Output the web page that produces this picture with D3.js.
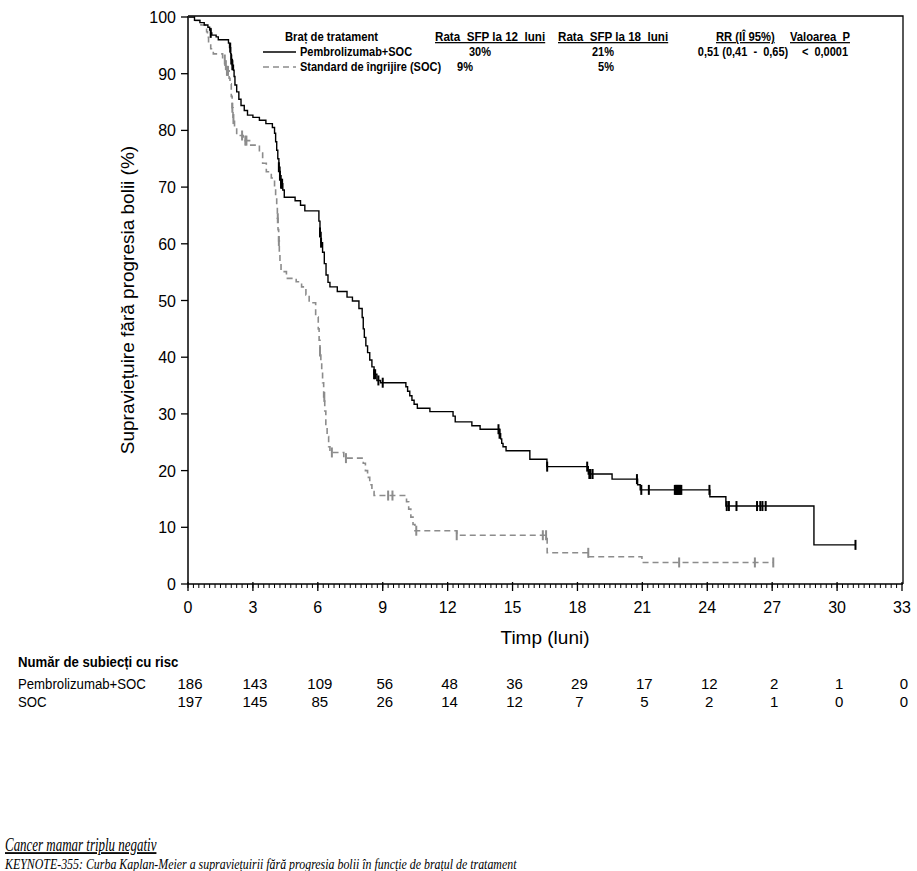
<!DOCTYPE html>
<html>
<head>
<meta charset="utf-8">
<script src="https://cdn.jsdelivr.net/npm/d3@7"></script>
<style>
    body { margin: 0; background: #fff; }
    svg { display: block; }
    .narrow { font-family: "Liberation Sans Narrow", "Arial Narrow", "Liberation Sans", sans-serif; }
    .sans { font-family: "Liberation Sans", Arial, sans-serif; }
    .serif { font-family: "Liberation Serif", "Times New Roman", serif; font-style: italic; }
</style>
</head>
<body>
<div id="chart"></div>
<script>
// Kaplan-Meier steps: [time in months, survival % after the drop]
const pembroSteps = [
    [0.3, 99.4], [0.55, 99.0], [0.75, 98.6], [0.92, 98.2], [1.0, 97.7], [1.05, 97.2], [1.1, 96.8],
    [1.3, 96.5], [1.4, 96.0], [1.87, 95.4], [1.92, 94.6], [1.97, 93.5], [2.0, 92.5], [2.05, 91.5],
    [2.1, 90.6], [2.13, 89.5], [2.17, 88.0], [2.25, 86.8], [2.35, 85.5], [2.45, 84.4], [2.6, 83.5],
    [2.75, 82.7], [3.0, 82.3], [3.3, 81.8], [3.6, 81.2], [3.9, 80.5], [4.0, 79.5], [4.05, 78.0],
    [4.1, 76.5], [4.15, 75.0], [4.2, 73.5], [4.25, 72.0], [4.3, 70.6], [4.38, 69.5], [4.45, 68.2],
    [4.95, 67.6], [5.2, 66.8], [5.4, 65.8], [6.05, 64.0], [6.1, 62.0], [6.15, 60.2], [6.22, 58.5],
    [6.3, 56.5], [6.38, 54.5], [6.47, 53.2], [6.56, 52.4], [6.9, 51.6], [7.35, 50.6], [7.6, 49.9],
    [7.9, 48.6], [8.05, 47.0], [8.1, 45.0], [8.15, 43.5], [8.22, 42.0], [8.3, 40.8], [8.4, 39.5],
    [8.5, 38.3], [8.6, 37.0], [8.73, 35.9], [8.9, 35.5], [10.07, 34.8], [10.15, 34.0], [10.25, 33.2],
    [10.35, 32.4], [10.45, 31.7], [10.6, 31.0], [11.18, 30.4], [12.25, 29.6], [12.35, 28.6],
    [13.12, 27.9], [13.5, 27.3], [14.4, 26.5], [14.45, 25.6], [14.5, 24.8], [14.56, 24.2],
    [14.7, 23.5], [15.8, 22.0], [16.59, 20.7], [18.5, 19.4], [19.6, 18.5], [20.78, 17.5],
    [20.9, 16.6], [24.12, 15.4], [24.86, 13.75], [28.93, 6.9]
];
const pembroEnd = 30.85;
const pembroCensored = [1.05, 1.95, 2.0, 2.05, 4.2, 4.25, 4.3, 4.35, 6.1, 6.15, 8.6, 8.65, 8.8, 9.0,
    14.35, 14.4, 16.6, 18.45, 18.55, 18.6, 18.7, 20.75, 20.95, 21.3, 22.5, 22.55, 22.6, 22.65, 22.7,
    22.75, 22.8, 24.1, 24.9, 25.0, 25.35, 26.3, 26.45, 26.55, 26.7, 30.85];

const socSteps = [
    [0.3, 99.4], [0.6, 98.6], [0.86, 97.4], [0.9, 96.4], [0.95, 95.3], [1.05, 94.4], [1.17, 93.5],
    [1.6, 92.5], [1.71, 91.5], [1.8, 90.5], [1.9, 89.2], [1.94, 88.2], [2.0, 86.0], [2.04, 84.0],
    [2.08, 82.0], [2.15, 80.5], [2.25, 79.1], [2.55, 78.2], [2.9, 77.4], [3.3, 76.0], [3.45, 74.2],
    [3.62, 72.7], [3.85, 71.6], [4.0, 70.1], [4.05, 68.5], [4.1, 66.5], [4.13, 64.5], [4.16, 62.5],
    [4.19, 60.5], [4.22, 58.5], [4.25, 56.5], [4.3, 55.1], [4.55, 53.9], [5.0, 53.3], [5.25, 52.4],
    [5.45, 51.0], [5.6, 49.6], [5.9, 47.1], [6.02, 45.0], [6.06, 43.0], [6.1, 41.0], [6.14, 39.0],
    [6.18, 37.5], [6.22, 35.5], [6.27, 33.0], [6.32, 30.5], [6.37, 28.0], [6.43, 26.0], [6.5, 24.2],
    [6.56, 23.2], [7.2, 22.2], [8.1, 21.3], [8.2, 20.0], [8.3, 18.8], [8.4, 17.5], [8.5, 16.3],
    [8.6, 15.6], [10.1, 14.5], [10.2, 13.2], [10.3, 11.8], [10.4, 10.5], [10.49, 9.4], [12.42, 8.6],
    [16.6, 5.5], [18.53, 4.8], [20.98, 3.8]
];
const socEnd = 27.05;
const socCensored = [1.7, 1.75, 1.8, 1.85, 2.05, 2.1, 2.5, 2.65, 2.7, 4.15, 4.2, 6.1, 6.3, 6.65, 7.3,
    9.25, 9.45, 10.55, 12.42, 16.4, 16.55, 18.5, 22.7, 26.2, 27.05];

const xTicks = [0, 3, 6, 9, 12, 15, 18, 21, 24, 27, 30, 33];
const yTicks = [0, 10, 20, 30, 40, 50, 60, 70, 80, 90, 100];

const legendHeader = ["Braț de tratament", "Rata  SFP la 12  luni", "Rata  SFP la 18  luni", "RR (IÎ 95%)", "Valoarea  P"];
const legendRows = [
    ["Pembrolizumab+SOC", "30%", "21%", "0,51 (0,41  -  0,65)", "<  0,0001"],
    ["Standard de îngrijire (SOC)", "9%", "5%", "", ""]
];

const riskLabels = ["Pembrolizumab+SOC", "SOC"];
const riskPembro = [186, 143, 109, 56, 48, 36, 29, 17, 12, 2, 1, 0];
const riskSoc = [197, 145, 85, 26, 14, 12, 7, 5, 2, 1, 0, 0];

const width = 917, height = 871;
const black = "#000", grey = "#8c8c8c";

const svg = d3.select("#chart").append("svg")
    .attr("width", width)
    .attr("height", height);

const x = d3.scaleLinear().domain([0, 33]).range([188, 902]);
const y = d3.scaleLinear().domain([0, 100]).range([584, 17]);

// condensed text: no narrow font installed, so squeeze horizontally
function narrowText(parent, tx, ty, str, anchor, size, bold, squeeze) {
    return parent.append("text")
        .attr("class", "narrow")
        .attr("transform", `translate(${tx},${ty}) scale(${squeeze || 0.88},1)`)
        .attr("text-anchor", anchor || "start")
        .attr("font-size", size)
        .attr("font-weight", bold ? "bold" : "normal")
        .style("white-space", "pre")
        .text(str);
}

// frame (top and right)
svg.append("path")
    .attr("d", `M${x(0)},${y(100) - 1}H${x(33) + 1}V${y(0)}`)
    .attr("fill", "none").attr("stroke", black).attr("stroke-width", 1.3);

// x axis with minor ticks every quarter month
const xAxis = svg.append("g").attr("transform", `translate(0,${y(0)})`);
xAxis.append("line").attr("x1", x(0)).attr("x2", x(33) + 1).attr("stroke", black).attr("stroke-width", 1.5);
xAxis.selectAll(".minor").data(d3.range(0, 132).map(i => i / 4))
    .enter().append("line")
    .attr("x1", d => x(d)).attr("x2", d => x(d))
    .attr("y1", 0).attr("y2", 4)
    .attr("stroke", black).attr("stroke-width", 1);
xAxis.selectAll(".major").data(xTicks)
    .enter().append("line")
    .attr("x1", d => x(d)).attr("x2", d => x(d))
    .attr("y1", -2).attr("y2", 7)
    .attr("stroke", black).attr("stroke-width", 1.3);
xAxis.selectAll(".lbl").data(xTicks)
    .enter().append("text")
    .attr("class", "sans")
    .attr("x", d => x(d)).attr("y", 29)
    .attr("text-anchor", "middle")
    .attr("font-size", 16)
    .text(d => d);

svg.append("text")
    .attr("class", "sans")
    .attr("x", 545).attr("y", 644)
    .attr("text-anchor", "middle")
    .attr("font-size", 19)
    .text("Timp (luni)");

// y axis
const yAxis = svg.append("g").attr("transform", `translate(${x(0)},0)`);
yAxis.append("line").attr("y1", y(0)).attr("y2", y(100) - 1).attr("stroke", black).attr("stroke-width", 1.5);
yAxis.selectAll(".major").data(yTicks)
    .enter().append("line")
    .attr("x1", -7).attr("x2", 0)
    .attr("y1", d => y(d)).attr("y2", d => y(d))
    .attr("stroke", black).attr("stroke-width", 1.3);
yAxis.selectAll(".lbl").data(yTicks)
    .enter().append("text")
    .attr("class", "sans")
    .attr("x", -12).attr("y", d => y(d) + 6)
    .attr("text-anchor", "end")
    .attr("font-size", 16)
    .text(d => d);

svg.append("text")
    .attr("class", "sans")
    .attr("transform", "translate(134,300) rotate(-90)")
    .attr("text-anchor", "middle")
    .attr("font-size", 19)
    .text("Supraviețuire fără progresia bolii (%)");

// step path helper
function stepPath(steps, end) {
    let d = `M${x(0)},${y(100)}`;
    steps.forEach(s => { d += `H${x(s[0])}V${y(s[1])}`; });
    return d + `H${x(end)}`;
}
function valueAt(steps, t) {
    let v = 100;
    steps.forEach(s => { if (s[0] <= t) v = s[1]; });
    return v;
}

svg.append("path")
    .attr("d", stepPath(socSteps, socEnd))
    .attr("fill", "none").attr("stroke", grey).attr("stroke-width", 1.6)
    .attr("stroke-dasharray", "6,4");

svg.selectAll(".socCens").data(socCensored)
    .enter().append("line")
    .attr("x1", d => x(d)).attr("x2", d => x(d))
    .attr("y1", d => y(valueAt(socSteps, d)) - 5)
    .attr("y2", d => y(valueAt(socSteps, d)) + 5)
    .attr("stroke", grey).attr("stroke-width", 2);

svg.append("path")
    .attr("d", stepPath(pembroSteps, pembroEnd))
    .attr("fill", "none").attr("stroke", black).attr("stroke-width", 1.4);

svg.selectAll(".pemCens").data(pembroCensored)
    .enter().append("line")
    .attr("x1", d => x(d)).attr("x2", d => x(d))
    .attr("y1", d => y(valueAt(pembroSteps, d)) - 5)
    .attr("y2", d => y(valueAt(pembroSteps, d)) + 5)
    .attr("stroke", black).attr("stroke-width", 2);

// legend table
const legend = svg.append("g");
const headX = [285, 435, 558, 716, 790];
legendHeader.forEach((h, i) => {
    narrowText(legend, headX[i], 41, h, "start", 12.5, true, i > 0 && i < 3 ? 0.93 : 0.9)
        .style("text-decoration", i > 0 ? "underline" : "none");
});

const colCenters = [null, 480, 603, 743, 825];
legendRows.forEach((row, r) => {
    const yy = 56 + r * 15;
    legend.append("line")
        .attr("x1", 263).attr("x2", 296)
        .attr("y1", yy - 4).attr("y2", yy - 4)
        .attr("stroke", r === 0 ? black : grey)
        .attr("stroke-width", 1.5)
        .attr("stroke-dasharray", r === 0 ? null : "6,4");
    narrowText(legend, 300, yy, row[0], "start", 12.5, true);
    row.slice(1).forEach((cell, i) => {
        const cx = colCenters[i + 1] + (r === 1 && i === 0 ? -15 : 0) + (r === 1 && i === 1 ? 3 : 0);
        narrowText(legend, cx, yy, cell, "middle", 12.5, true);
    });
});

// number at risk
narrowText(svg, 18, 667, "Număr de subiecți cu risc", "start", 15, true);

[riskPembro, riskSoc].forEach((vals, r) => {
    const yy = 689 + r * 18;
    narrowText(svg, 18, yy, riskLabels[r], "start", 15, false);
    svg.selectAll(".risk" + r).data(vals)
        .enter().append("text")
        .attr("class", "sans")
        .attr("x", (d, i) => x(xTicks[i]) + 2).attr("y", yy)
        .attr("text-anchor", "middle")
        .attr("font-size", 15)
        .text(d => d);
});

// caption below the figure
svg.append("text")
    .attr("class", "serif")
    .attr("transform", "translate(5,851) scale(0.72,1)")
    .attr("font-size", 18)
    .style("text-decoration", "underline")
    .text("Cancer mamar triplu negativ");

svg.append("text")
    .attr("class", "serif")
    .attr("transform", "translate(5,869) scale(0.85,1)")
    .attr("font-size", 14)
    .text("KEYNOTE-355: Curba Kaplan-Meier a supraviețuirii fără progresia bolii în funcție de brațul de tratament");
</script>
</body>
</html>
